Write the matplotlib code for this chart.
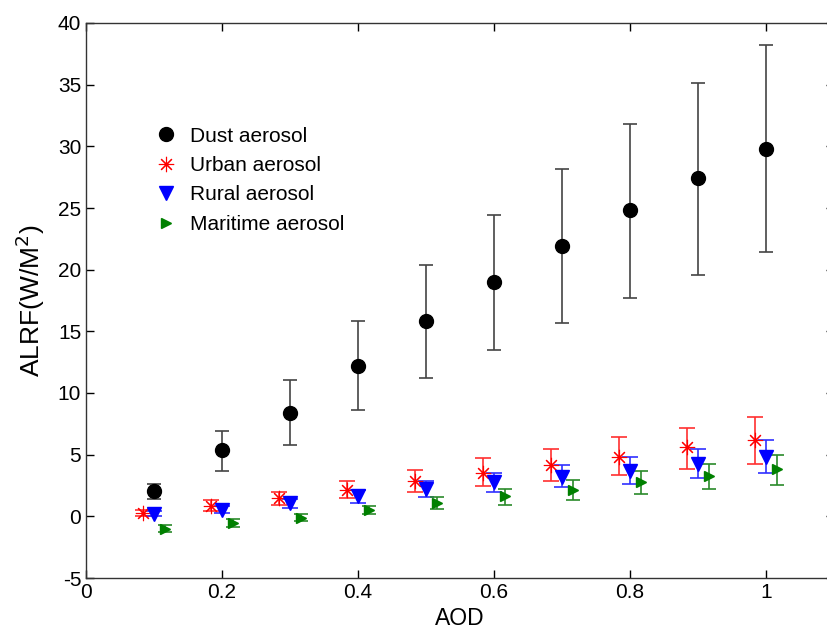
import numpy as np
import matplotlib.pyplot as plt

plt.rcParams['font.family'] = ['Liberation Sans', 'DejaVu Sans']
plt.rcParams['axes.unicode_minus'] = False

aod = np.array([0.1, 0.2, 0.3, 0.4, 0.5, 0.6, 0.7, 0.8, 0.9, 1.0])

# 各エアロゾルの値と誤差範囲 (下限, 上限)
dust = [2.05, 5.35, 8.35, 12.2, 15.8, 19.0, 21.9, 24.8, 27.4, 29.8]
dust_lo = [1.4, 3.7, 5.8, 8.6, 11.2, 13.5, 15.7, 17.7, 19.6, 21.4]
dust_hi = [2.65, 6.95, 11.05, 15.8, 20.4, 24.4, 28.2, 31.8, 35.1, 38.2]

urban = [0.3, 0.85, 1.45, 2.15, 2.9, 3.55, 4.15, 4.85, 5.6, 6.2]
urban_lo = [0.05, 0.4, 0.9, 1.45, 1.95, 2.45, 2.85, 3.35, 3.85, 4.25]
urban_hi = [0.55, 1.3, 2.0, 2.85, 3.75, 4.7, 5.5, 6.4, 7.15, 8.05]

rural = [0.2, 0.55, 1.05, 1.65, 2.2, 2.75, 3.2, 3.7, 4.25, 4.8]
rural_lo = [0.0, 0.3, 0.7, 1.1, 1.6, 1.95, 2.4, 2.65, 3.1, 3.5]
rural_hi = [0.4, 0.8, 1.4, 2.1, 2.85, 3.55, 4.15, 4.85, 5.45, 6.15]

maritime = [-1.0, -0.55, -0.1, 0.5, 1.05, 1.65, 2.1, 2.75, 3.25, 3.8]
maritime_lo = [-1.3, -0.85, -0.4, 0.2, 0.6, 0.95, 1.35, 1.85, 2.25, 2.55]
maritime_hi = [-0.7, -0.25, 0.2, 0.8, 1.55, 2.25, 2.95, 3.65, 4.25, 4.95]

fig = plt.figure(figsize=(8.28, 6.36), dpi=100)
ax = fig.add_axes([86/828, 58/636, 748/828, 555/636])

def err(v, lo, hi):
    v = np.array(v); return [v - np.array(lo), np.array(hi) - v]

h = []
# 誤差棒
ax.errorbar(aod, dust, yerr=err(dust, dust_lo, dust_hi), fmt='none',
            ecolor='#444444', elinewidth=1.2, capsize=5, capthick=1.2)
ax.errorbar(aod - 0.016, urban, yerr=err(urban, urban_lo, urban_hi), fmt='none',
            ecolor='#ff3030', elinewidth=1.2, capsize=6, capthick=1.2)
ax.errorbar(aod, rural, yerr=err(rural, rural_lo, rural_hi), fmt='none',
            ecolor='#3030ff', elinewidth=1.2, capsize=6, capthick=1.2)
ax.errorbar(aod + 0.016, maritime, yerr=err(maritime, maritime_lo, maritime_hi),
            fmt='none', ecolor='#2a8a2a', elinewidth=1.2, capsize=5, capthick=1.2)

# マーカー
h += ax.plot(aod, dust, 'o', color='k', markersize=10, label='Dust aerosol')
h += ax.plot(aod - 0.016, urban, linestyle='none', marker=(8, 2, 0), color='r',
             markersize=11, markeredgewidth=0.8, label='Urban aerosol')
h += ax.plot(aod, rural, 'v', color='b', markersize=9.5, label='Rural aerosol')
h += ax.plot(aod + 0.016, maritime, '>', color='g', markersize=7.5,
             label='Maritime aerosol')

ax.set_xlim(0, 1.1)
ax.set_ylim(-5, 40)
ax.set_xticks([0, 0.2, 0.4, 0.6, 0.8, 1.0])
ax.set_xticklabels(['0', '0.2', '0.4', '0.6', '0.8', '1'])
ax.set_yticks(np.arange(-5, 41, 5))
ax.tick_params(direction='in', top=True, right=True, labelsize=15, length=6, width=1)
for s in ax.spines.values():
    s.set_linewidth(1)
    s.set_color('#333333')
ax.set_xlabel('AOD', fontsize=16.5, labelpad=4)
ax.set_ylabel('ALRF(W/M$^2$)', fontsize=19, labelpad=8)

ax.legend(handles=h, loc='upper left', bbox_to_anchor=(0.063, 0.847), frameon=False,
          fontsize=15, handletextpad=0.45, labelspacing=0.5, handlelength=1.4)

plt.savefig('out.png')
